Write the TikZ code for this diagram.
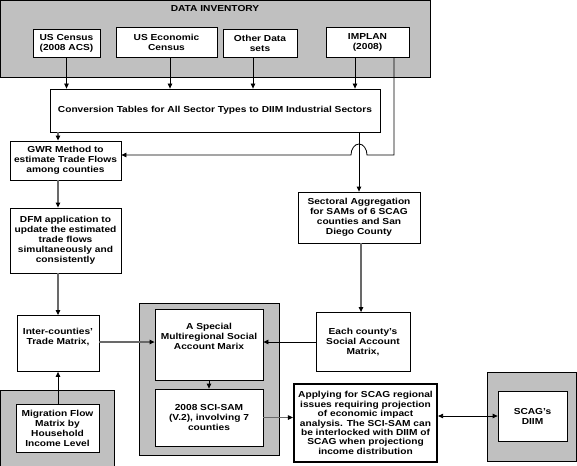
\documentclass[tikz,border=0pt]{standalone}
\usepackage{fontspec}
\setmainfont{Liberation Sans}[FakeStretch=1.17]
\usetikzlibrary{arrows.meta}
\definecolor{grpfill}{RGB}{192,192,192}
\definecolor{lngray}{RGB}{105,105,105}
\tikzset{
  sz/.style 2 args={minimum width=#1pt,minimum height=#2pt},
  txt/.style={align=center,inner sep=0pt,font=\fontsize{8.7}{10}\selectfont\bfseries},
  box/.style={txt,draw,fill=white,line width=0.8pt},
  grpbox/.style={draw,fill=grpfill,line width=0.9pt,inner sep=0pt},
  arr/.style={line width=0.8pt,-{Triangle[length=5pt,width=4.5pt]}},
  garr/.style={line width=1.1pt,draw=lngray,-{Triangle[length=5pt,width=4.5pt,fill=black,color=black]}},
  dblarr/.style={line width=0.8pt,{Triangle[length=5pt,width=4.5pt]}-{Triangle[length=5pt,width=4.5pt]}},
}
\begin{document}
\begin{tikzpicture}[x=1pt,y=-1pt]
\useasboundingbox (0,0) rectangle (577,465);
% data inventory
\node[grpbox,sz={430}{77}] (inv) at (215,38.5) {};
\node[txt] (invt) at (215,8.5) {DATA INVENTORY};
\node[box,sz={67}{28}] (census) at (66.5,43) {US Census\\(2008 ACS)};
\node[box,sz={101}{30}] (econ) at (166.5,42) {US Economic\\Census};
\node[box,sz={74}{28}] (other) at (260,43) {Other Data\\sets};
\node[box,sz={83}{30}] (implan) at (367.5,42) {IMPLAN\\(2008)};
\node[box,sz={330}{43}] (conv) at (215,110.5) {Conversion Tables for All Sector Types to DIIM Industrial Sectors};
% left column
\node[box,sz={111}{39}] (gwr) at (65.5,160.5) {GWR Method to\\estimate Trade Flows\\among counties};
\node[box,sz={111}{65}] (dfm) at (65.5,240.5) {DFM application to\\update the estimated\\trade flows\\simultaneously and\\consistently};
\node[box,sz={82}{56}] (inter) at (58,343.5) {};
\node[txt] (intert) at (58,337) {Inter-counties'\\Trade Matrix,};
\node[grpbox,sz={114}{76}] (miggrp) at (57,428) {};
\node[box,sz={83}{48}] (mig) at (57.5,428) {Migration Flow\\Matrix by\\Household\\Income Level};
% middle
\node[grpbox,sz={140}{152}] (midgrp) at (209,379) {};
\node[box,sz={108}{71}] (special) at (209,344.5) {};
\node[txt] (specialt) at (209,336) {A Special\\Multiregional Social\\Account Marix};
\node[box,sz={108}{57}] (scisam) at (209,417.5) {2008 SCI-SAM\\(V.2), involving 7\\counties};
% right
\node[box,sz={122}{51}] (sect) at (359,217.5) {Sectoral Aggregation\\for SAMs of 6 SCAG\\counties and San\\Diego County};
\node[box,sz={94}{59}] (each) at (363,342) {Each county's\\Social Account\\Matrix,};
\node[box,sz={143}{78},line width=2.2pt,font=\fontsize{8.7}{9.4}\selectfont\bfseries] (apply) at (365.5,423) {Applying for SCAG regional\\issues requiring projection\\of economic impact\\analysis. The SCI-SAM can\\be interlocked with DIIM of\\SCAG when projectiong\\income distribution};
\node[grpbox,sz={89}{89}] (scaggrp) at (531.5,416.5) {};
\node[box,sz={69}{50}] (scag) at (532.5,416) {SCAG's\\DIIM};
% connectors
\draw[arr] (census.south) -- (census.south |- conv.north);
\draw[arr] ([xshift=3.5pt]econ.south) -- ([xshift=3.5pt]econ.south |- conv.north);
\draw[arr] ([xshift=-7pt]other.south) -- ([xshift=-7pt]other.south |- conv.north);
\draw[arr] ([xshift=-12.5pt]implan.south) -- ([xshift=-12.5pt]implan.south |- conv.north);
\draw[garr] ([xshift=-7.5pt]gwr.north |- conv.south) -- ([xshift=-7.5pt]gwr.north);
\draw[garr] ([xshift=-7.5pt]gwr.south) -- ([xshift=-7.5pt]dfm.north);
\draw[garr] (dfm.south -| inter.north) -- (inter.north);
\draw[arr] (mig.north -| inter.south) -- (inter.south);
\draw[arr] (sect.north |- conv.south) -- (sect.north);
\coordinate (bend) at (394,155);
\coordinate (hopR) at (367,155);
\draw[arr] ([xshift=26.5pt]implan.south) -- (bend) -- (hopR)
  arc[start angle=0,end angle=180,x radius=8pt,y radius=11pt] -- (gwr.east |- bend);
\draw[garr] ([xshift=2pt]sect.south) -- ([xshift=2pt]sect.south |- each.north);
\draw[garr] (inter.east |- each.west) -- (each.west -| special.west);
\draw[arr] (each.west) -- (each.west -| special.east);
\draw[arr] (special.south) -- (scisam.north);
\draw[garr] (scisam.east) -- (scisam.east -| apply.west);
\draw[dblarr] (scag.west -| apply.east) -- (scag.west);
\end{tikzpicture}
\end{document}
